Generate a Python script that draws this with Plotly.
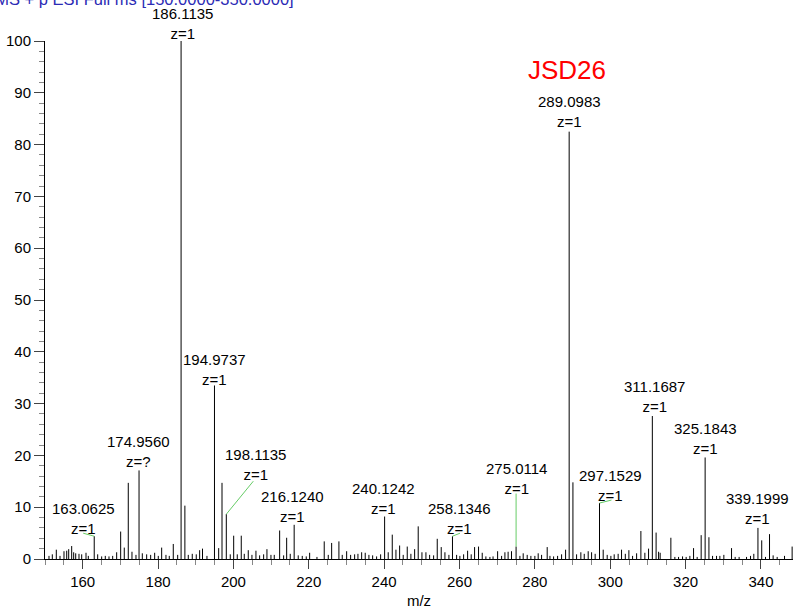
import plotly.graph_objects as go

# ---------------- data ----------------
mz = [151.06, 151.94, 153.00, 153.98, 155.04, 155.76, 156.29, 157.08, 157.61, 158.15,
      159.02, 159.74, 160.88, 161.49, 163.0625, 163.98, 165.04, 166.00, 166.98, 167.96,
      169.02, 170.08, 171.04, 172.10, 173.08, 174.14, 174.9560, 175.82, 176.98, 178.04,
      179.10, 180.06, 180.96, 182.10, 182.98, 184.04, 185.21, 186.1135, 187.12, 188.02,
      189.08, 190.14, 191.04, 191.80, 192.98, 194.9737, 196.09, 196.97, 198.1135, 199.16,
      200.07, 201.02, 202.08, 202.88, 203.94, 204.92, 205.98, 206.96, 208.02, 208.90,
      209.96, 210.84, 212.27, 213.33, 214.13, 215.08, 216.1240, 217.20, 218.27, 219.33,
      220.23, 222.17, 224.10, 225.17, 226.07, 228.00, 228.88, 230.05, 231.11, 232.17,
      233.05, 234.03, 234.98, 235.96, 236.95, 238.00, 239.07, 240.1242, 241.08, 242.15,
      243.13, 244.11, 245.06, 246.13, 247.10, 248.09, 249.04, 250.03, 251.09, 252.07,
      253.13, 254.09, 255.15, 256.13, 257.19, 258.1346, 259.23, 260.10, 261.09, 262.15,
      263.10, 264.00, 265.05, 266.03, 267.00, 268.07, 268.90, 270.11, 271.17, 272.05,
      272.90, 273.80, 275.0114, 276.03, 276.90, 277.96, 278.94, 280.00, 280.88, 281.78,
      283.27, 284.00, 284.97, 286.03, 287.09, 288.15, 289.0983, 290.10, 291.07, 292.20,
      293.10, 294.15, 295.05, 296.00, 297.1529, 298.13, 299.19, 300.17, 301.05, 302.10,
      303.00, 304.00, 304.95, 305.93, 307.00, 308.13, 309.19, 310.17, 311.1687, 312.17,
      312.83, 313.25, 316.09, 317.15, 318.13, 319.19, 320.15, 321.13, 322.11, 323.07,
      324.13, 325.1843, 326.19, 327.15, 328.21, 329.09, 330.15, 332.19, 333.15, 334.20,
      336.17, 337.23, 338.10, 339.1999, 340.20, 341.20, 342.27, 343.23, 344.30, 346.25,
      348.27]
intensity = [0.6, 0.9, 1.8, 0.6, 1.5, 1.6, 1.9, 2.5, 1.3, 1.1,
             1.0, 0.9, 1.2, 0.6, 4.4, 0.9, 0.5, 0.6, 0.5, 0.6,
             1.3, 5.3, 2.2, 14.7, 1.4, 0.8, 17.1, 1.1, 0.9, 0.8,
             1.2, 0.6, 2.2, 0.8, 0.6, 2.9, 0.8, 100.0, 10.3, 0.8,
             1.0, 0.9, 1.7, 2.0, 0.6, 33.5, 2.1, 14.7, 8.65, 0.9,
             4.5, 0.9, 4.5, 1.0, 1.7, 0.8, 1.6, 0.7, 0.9, 1.9,
             0.8, 0.8, 5.5, 0.7, 4.1, 1.0, 6.6, 0.7, 0.6, 0.5,
             1.2, 0.4, 3.4, 0.8, 3.1, 3.4, 0.8, 1.5, 0.8, 0.9,
             1.0, 1.3, 1.2, 0.8, 0.7, 0.5, 0.9, 8.2, 1.3, 4.7,
             1.8, 2.6, 0.8, 2.4, 1.0, 1.9, 6.3, 1.3, 1.3, 0.8,
             0.7, 3.9, 2.3, 1.3, 0.8, 4.4, 0.8, 0.6, 0.9, 1.6,
             0.9, 2.3, 2.4, 1.2, 0.5, 0.4, 0.5, 1.5, 0.6, 1.3,
             1.4, 1.5, 2.4, 0.6, 1.1, 0.8, 0.6, 0.6, 1.1, 0.8,
             2.3, 0.6, 0.5, 0.6, 0.9, 1.8, 82.5, 14.8, 0.9, 1.3,
             1.0, 1.5, 1.3, 1.0, 10.8, 1.8, 0.8, 0.6, 0.9, 1.0,
             1.8, 1.0, 1.7, 0.6, 1.1, 5.4, 1.2, 2.0, 27.6, 5.1,
             1.4, 1.2, 4.1, 0.4, 0.4, 0.5, 0.4, 0.6, 2.1, 0.4,
             4.6, 19.6, 4.2, 0.6, 0.6, 0.6, 0.8, 2.1, 0.4, 0.4,
             0.4, 0.6, 1.0, 6.0, 3.6, 0.4, 4.8, 0.7, 0.4, 0.6,
             2.4]

label_mz = [163.0625, 174.9560, 186.1135, 194.9737, 198.1135, 216.1240, 240.1242,
            258.1346, 275.0114, 289.0983, 297.1529, 311.1687, 325.1843, 339.1999]
label_charge = ["z=1", "z=?", "z=1", "z=1", "z=1", "z=1", "z=1",
                "z=1", "z=1", "z=1", "z=1", "z=1", "z=1", "z=1"]

x_ticks = [160, 180, 200, 220, 240, 260, 280, 300, 320, 340]
y_ticks = [0, 10, 20, 30, 40, 50, 60, 70, 80, 90, 100]

header_text = "FTMS + p ESI Full ms [150.0000-350.0000]"
sample_name = "JSD26"

# ---------------- layout helpers (pixel offsets of labels) ----------------
label_dx = [-11, -1, 1, 0, 29, -2, -1, 7, 0, 0, 11, 2, 0, 0]
label_up = [17.5, 18.5, 18, 16, 49.5, 18, 18.5, 18, 68.5, 20, 17.5, 20, 19, 19]
# leader lines (green): pixel offset of far end relative to peak top
leader = {163.0625: (-11, 3), 198.1135: (27, 33), 258.1346: (7.5, 3),
          275.0114: (0, 53), 297.1529: (12, 3)}

FONT = "Liberation Sans, Arial, Helvetica, sans-serif"

xs, ys = [], []
for m, h in zip(mz, intensity):
    xs += [m, m, None]
    ys += [0, h, None]

fig = go.Figure()
fig.add_trace(go.Scatter(x=xs, y=ys, mode="lines",
                         line=dict(color="#000000", width=1),
                         hoverinfo="skip", showlegend=False))

lookup = dict(zip(mz, intensity))
annotations = []
shapes = []
for m, z, dx, up in zip(label_mz, label_charge, label_dx, label_up):
    h = lookup[m]
    annotations.append(dict(x=m, y=h, xref="x", yref="y",
                            text=f"{m:.4f}<br>{z}", showarrow=False,
                            xanchor="center", yanchor="middle",
                            xshift=dx, yshift=up,
                            font=dict(family=FONT, size=15, color="#000000")))
    if m in leader:
        lx, ly = leader[m]
        shapes.append(dict(type="line", xref="x", yref="y",
                           xsizemode="pixel", ysizemode="pixel",
                           xanchor=m, yanchor=h,
                           x0=0, x1=lx, y0=0, y1=ly,
                           line=dict(color="#66cc66", width=1)))

annotations.append(dict(x=(567 - 45) / 748, y=(559 - 70) / 518, xref="paper", yref="paper",
                        text=sample_name, showarrow=False, xanchor="center", yanchor="middle",
                        font=dict(family=FONT, size=26, color="#ff0000")))
annotations.append(dict(x=(296 - 45) / 748, y=(559 - 10) / 518, xref="paper", yref="paper",
                        text=header_text, showarrow=False, xanchor="right", yanchor="bottom",
                        font=dict(family=FONT, size=16.5, color="#2b2bb5")))

fig.update_layout(
    width=793, height=609,
    margin=dict(l=45, r=0, t=41, b=50),
    paper_bgcolor="white", plot_bgcolor="white",
    font=dict(family=FONT, size=15, color="#000000"),
    showlegend=False,
    annotations=annotations,
    shapes=shapes,
    xaxis=dict(range=[150, 348.5], tickvals=x_ticks, ticks="outside", ticklen=9,
               tickcolor="#444444", tickwidth=1, showgrid=False, zeroline=False,
               showline=True, linecolor="#000000", linewidth=1,
               tickfont=dict(size=15),
               minor=dict(dtick=5, tick0=150, ticks="outside", ticklen=5,
                          tickcolor="#888888", showgrid=False),
               title=dict(text="m/z", font=dict(size=15), standoff=6)),
    yaxis=dict(range=[0, 100], tickvals=y_ticks, ticks="outside", ticklen=10,
               tickcolor="#444444", tickwidth=1, showgrid=False, zeroline=False,
               showline=True, linecolor="#000000", linewidth=1,
               tickfont=dict(size=15),
               minor=dict(dtick=2, tick0=0, ticks="outside", ticklen=5,
                          tickcolor="#888888", showgrid=False)),
)

fig.write_html("out.html",
               config=dict(displayModeBar=False),
               post_script="document.body.style.margin='0px';document.body.style.overflow='hidden';")
